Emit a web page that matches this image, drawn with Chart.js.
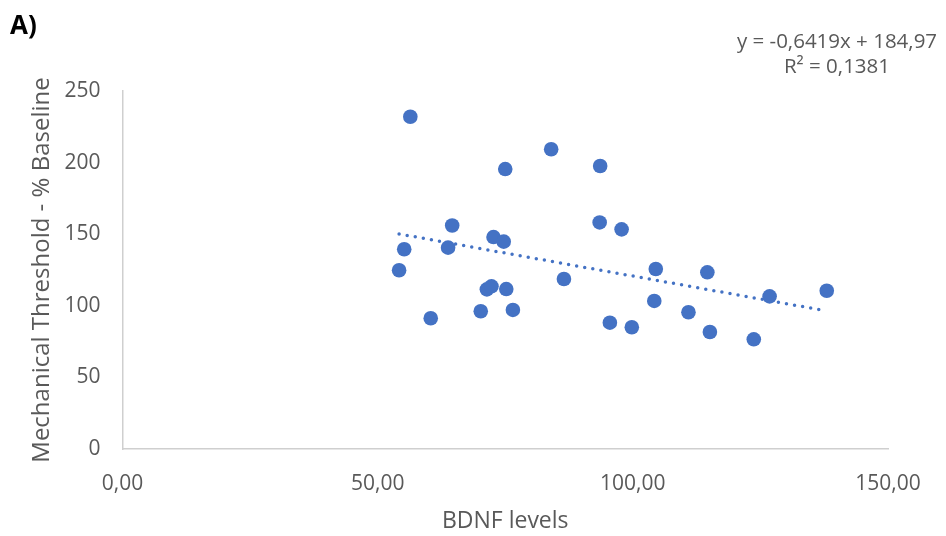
<!DOCTYPE html>
<html>
<head>
<meta charset="utf-8">
<script src="https://cdn.jsdelivr.net/npm/chart.js@4.4.1/dist/chart.umd.min.js"></script>
<style>
  html, body { margin: 0; padding: 0; background: #fff; }
  #wrap { position: relative; width: 946px; height: 536px; }
  canvas { position: absolute; left: 0; top: 0; }
  .lbl { position: absolute; font-family: "Open Sans", sans-serif; color: #595959; white-space: nowrap; }
  #panel { left: 10px; top: 6px; font-size: 26px; font-weight: bold; color: #000; }
  #eq { left: 735px; top: 28px; font-size: 20.5px; line-height: 25px; text-align: center; width: 204px; }
</style>
</head>
<body>
<div id="wrap">
  <canvas id="c" width="946" height="536"></canvas>
  <div class="lbl" id="panel">A)</div>
  <div class="lbl" id="eq">y = -0,6419x + 184,97<br>R² = 0,1381</div>
</div>
<script>
// BDNF levels (x) and mechanical threshold % baseline (y)
const bdnfLevels = [56.4, 84.0, 75.0, 93.6, 64.6, 93.5, 97.8, 72.7, 74.7, 55.2,
                    63.8, 54.2, 104.5, 86.5, 71.4, 72.3, 75.2, 104.2, 60.4, 70.2,
                    76.5, 95.5, 99.8, 114.6, 126.8, 138.0, 110.9, 115.1, 123.7];
const thresholdPct = [232.0, 209.3, 195.5, 197.6, 156.1, 158.2, 153.4, 148.0, 144.8, 139.5,
                      140.6, 124.8, 125.7, 118.7, 111.5, 113.6, 111.7, 103.4, 91.3, 96.2,
                      97.1, 88.2, 85.0, 123.4, 106.6, 110.5, 95.5, 81.7, 76.6];
// Linear trendline as printed on the chart
const trendSlope = -0.6419;
const trendIntercept = 184.97;
const xTicks = [0, 50, 100, 150];
const yTicks = [0, 50, 100, 150, 200, 250];

const points = bdnfLevels.map((x, i) => ({ x: x, y: thresholdPct[i] }));
const xMin = Math.min(...bdnfLevels), xMax = Math.max(...bdnfLevels);
const trend = [xMin, xMax].map(x => ({ x: x, y: trendSlope * x + trendIntercept }));

const fontFam = '"Open Sans", sans-serif';
const blue = '#4472C4';

new Chart(document.getElementById('c'), {
  type: 'scatter',
  data: {
    datasets: [
      {
        type: 'line',
        data: trend,
        borderColor: blue,
        borderWidth: 3.5,
        borderDash: [0, 8.2],
        borderCapStyle: 'round',
        pointRadius: 0,
        fill: false,
        order: 2
      },
      {
        data: points,
        backgroundColor: blue,
        borderColor: blue,
        borderWidth: 0,
        pointRadius: 7.3,
        order: 1
      }
    ]
  },
  options: {
    responsive: false,
    animation: false,
    devicePixelRatio: 1,
    layout: { padding: { left: 0, top: 91, right: 58, bottom: 0 } },
    plugins: { legend: { display: false }, tooltip: { enabled: false } },
    scales: {
      x: {
        type: 'linear',
        min: xTicks[0],
        max: xTicks[xTicks.length - 1],
        afterBuildTicks: s => { s.ticks = xTicks.map(v => ({ value: v })); },
        afterFit: s => { s.height = 87; },
        grid: { display: false, drawTicks: false },
        border: { display: true, color: '#cfcfcf', width: 1.5 },
        ticks: {
          padding: 22,
          color: '#595959',
          font: { family: fontFam, size: 21 },
          callback: v => v.toFixed(2).replace('.', ',')
        },
        title: {
          display: true,
          text: 'BDNF levels',
          color: '#595959',
          font: { family: fontFam, size: 23 },
          padding: { top: 0, bottom: 1 }
        }
      },
      y: {
        type: 'linear',
        min: yTicks[0],
        max: yTicks[yTicks.length - 1],
        afterBuildTicks: s => { s.ticks = yTicks.map(v => ({ value: v })); },
        afterFit: s => { s.width = 122.5; },
        grid: { display: false, drawTicks: false },
        border: { display: true, color: '#cfcfcf', width: 1.5 },
        ticks: {
          padding: 22,
          color: '#595959',
          font: { family: fontFam, size: 21 },
          callback: v => String(v)
        },
        title: {
          display: true,
          text: 'Mechanical Threshold - % Baseline',
          color: '#595959',
          font: { family: fontFam, size: 24 },
          padding: { top: 28, bottom: 0 }
        }
      }
    }
  }
});
</script>
</body>
</html>
